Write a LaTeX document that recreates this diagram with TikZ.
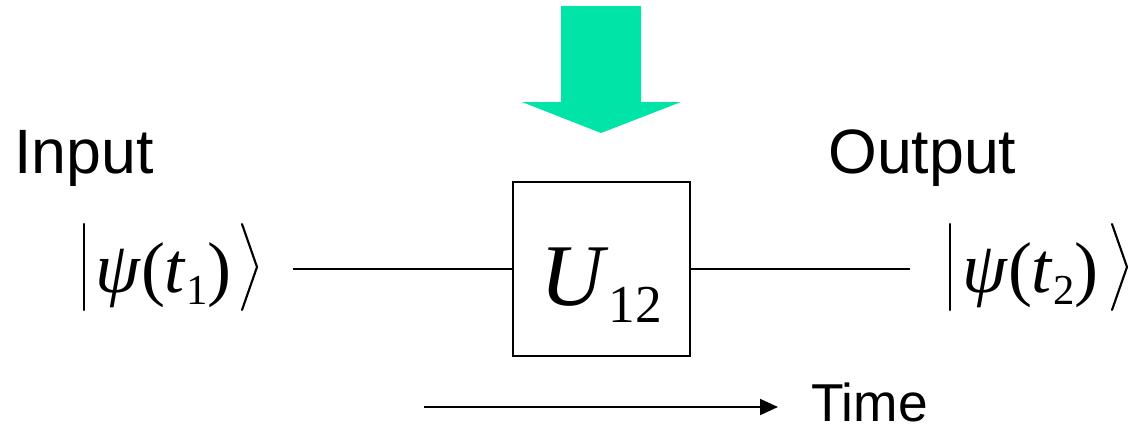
\documentclass[tikz,border=0pt]{standalone}
\usepackage{fontspec}
\setmainfont{Liberation Serif}
\newfontfamily\labelfont{Liberation Sans}
\usetikzlibrary{arrows.meta}
\definecolor{beam}{RGB}{0,228,168}
\tikzset{
  lbl/.style={inner sep=0pt, anchor=base west, font=\labelfont\fontsize{47}{47}\selectfont},
  wire/.style={line width=1.5pt},
  ketline/.style={line width=1.6pt, line cap=round, line join=miter},
}
\newcommand{\ketbody}[1]{\fontsize{54}{54}\selectfont\textit{ψ}(\textit{t}\raisebox{-9pt}{\fontsize{32}{32}\selectfont #1})}
\begin{document}
\begin{tikzpicture}[x=0.75pt,y=-0.75pt]
\useasboundingbox (0,0) rectangle (1132,430);
% green arrow
\fill[beam] (561,6) -- (641,6) -- (641,102) -- (681,102) -- (601,133) -- (522,102) -- (561,102) -- cycle;
% labels
\node[lbl] (in) at (14,173) {Input};
\node[lbl] (out) at (828,173) {Output};
% box
\node[draw, line width=1.5pt, minimum width=177*0.75pt, minimum height=174*0.75pt, inner sep=0pt] (U) at (601.5,269) {};
\node[inner sep=0pt, anchor=base west] (Ut) at (540,305) {\fontsize{66}{66}\selectfont\textit{U}\raisebox{-13pt}{\fontsize{40}{40}\selectfont 12}};
% kets
\node[inner sep=0pt, anchor=base west] (k1) at (95,292) {\ketbody{1}};
\node[inner sep=0pt, anchor=base west] (k2) at (962,292) {\ketbody{2}};
\coordinate (k1l) at (293,269);
\coordinate (k2r) at (910,269);
\draw[wire] (k1l) -- (U.west);
\draw[wire] (U.east) -- (k2r);
% bars and angles
\draw[ketline] (84,224) -- (84,310);
\draw[ketline] (242,224) -- (257,267) -- (242,310);
\draw[ketline] (950,224) -- (950,310);
\draw[ketline] (1112,224) -- (1127,267) -- (1112,310);
% time arrow
\coordinate (t0) at (424,407);
\coordinate (t1) at (778,407);
\draw[line width=1.5pt, -{Triangle[length=18pt*0.75, width=16pt*0.75]}] (t0) -- (t1);
\node[lbl, font=\labelfont\fontsize{40}{40}\selectfont] (time) at (811,421) {Time};
\end{tikzpicture}
\end{document}
